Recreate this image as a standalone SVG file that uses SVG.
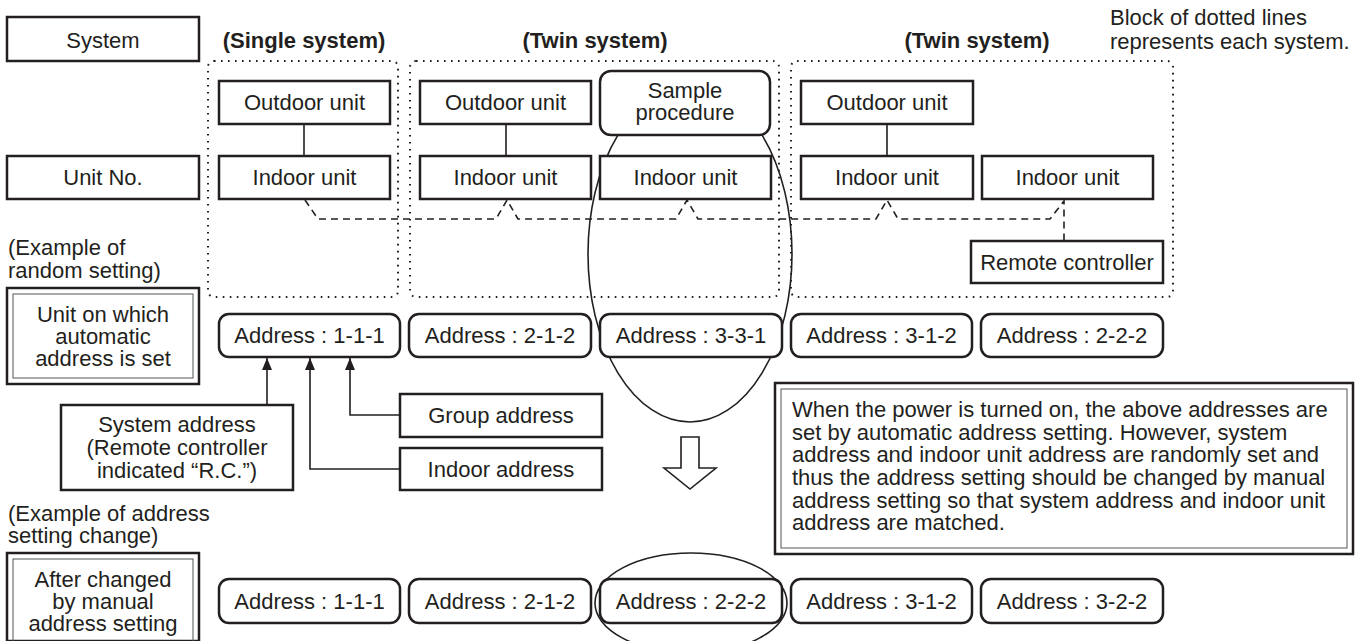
<svg xmlns="http://www.w3.org/2000/svg" width="1367" height="641" viewBox="0 0 1367 641">
<defs>
<style>
text{font-family:"Liberation Sans",Arial,sans-serif;font-size:22px;fill:#231f20}
.c{text-anchor:middle}
.b{font-weight:bold}
.box{fill:#fff;stroke:#231f20;stroke-width:2.5}
.dot{fill:none;stroke:#231f20;stroke-width:2;stroke-dasharray:1.6 5.4}
.dash{fill:none;stroke:#231f20;stroke-width:1.6;stroke-dasharray:7 5}
.ln{fill:none;stroke:#231f20;stroke-width:1.6}
.inner{fill:none;stroke:#555;stroke-width:1}
</style>
<marker id="ah" markerWidth="12" markerHeight="10" refX="12" refY="5" orient="auto" markerUnits="userSpaceOnUse" viewBox="0 0 12 10">
<path d="M0,0 L12,5 L0,10 Z" fill="#231f20"/>
</marker>
</defs>

<!-- dotted system blocks -->
<g id="blocks">
<rect class="dot" x="208" y="61" width="190" height="236" rx="6"/>
<rect class="dot" x="410" y="61" width="369" height="236" rx="6"/>
<rect class="dot" x="791" y="61" width="382" height="236" rx="6"/>
</g>

<!-- highlight ellipses -->
<g id="ellipses">
<ellipse class="ln" cx="690" cy="254" rx="102" ry="168"/>
<ellipse class="ln" cx="691" cy="603" rx="96" ry="50"/>
</g>

<!-- connectors -->
<g id="connectors">
<line class="ln" x1="304" y1="124" x2="304" y2="156"/>
<line class="ln" x1="506" y1="124" x2="506" y2="156"/>
<line class="ln" x1="887" y1="124" x2="887" y2="156"/>
<path class="dash" d="M305,200 L318,219 L496,219 L507,200 L518,219 L676,219 L687,200 L698,219 L876,219 L887,200 L898,219 L1050,219 L1064,201 L1064,241"/>
<path class="ln" d="M267,405 L267,358" marker-end="url(#ah)"/>
<path class="ln" d="M400,469 L310,469 L310,358" marker-end="url(#ah)"/>
<path class="ln" d="M400,415 L350,415 L350,358" marker-end="url(#ah)"/>
</g>

<!-- row labels -->
<g id="system-label"><rect class="box" x="7" y="17" width="192" height="44"/><text class="c" x="103" y="48">System</text></g>
<g id="unitno-label"><rect class="box" x="7" y="156" width="192" height="43"/><text class="c" x="103" y="185">Unit No.</text></g>

<g id="headers">
<text class="c b" x="304" y="48">(Single system)</text>
<text class="c b" x="595" y="48">(Twin system)</text>
<text class="c b" x="977" y="48">(Twin system)</text>
<text x="1110" y="25">Block of dotted lines</text>
<text x="1110" y="49">represents each system.</text>
</g>

<!-- single system -->
<g id="outdoor-1"><rect class="box" x="219" y="81" width="171" height="43"/><text class="c" x="304.5" y="110">Outdoor unit</text></g>
<g id="indoor-1"><rect class="box" x="219" y="156" width="171" height="43"/><text class="c" x="304.5" y="185">Indoor unit</text></g>

<!-- twin system 1 -->
<g id="outdoor-2"><rect class="box" x="420" y="81" width="171" height="43"/><text class="c" x="505.5" y="110">Outdoor unit</text></g>
<g id="sample-procedure"><rect class="box" x="600" y="71" width="170" height="64" rx="11"/><text class="c" x="685" y="98">Sample</text><text class="c" x="685" y="120">procedure</text></g>
<g id="indoor-2a"><rect class="box" x="420" y="156" width="171" height="43"/><text class="c" x="505.5" y="185">Indoor unit</text></g>
<g id="indoor-2b"><rect class="box" x="600" y="156" width="171" height="43"/><text class="c" x="685.5" y="185">Indoor unit</text></g>

<!-- twin system 2 -->
<g id="outdoor-3"><rect class="box" x="801" y="81" width="172" height="43"/><text class="c" x="887" y="110">Outdoor unit</text></g>
<g id="indoor-3a"><rect class="box" x="801" y="156" width="172" height="43"/><text class="c" x="887" y="185">Indoor unit</text></g>
<g id="indoor-3b"><rect class="box" x="982" y="156" width="171" height="43"/><text class="c" x="1067.5" y="185">Indoor unit</text></g>
<g id="remote-controller"><rect class="box" x="971" y="241" width="192" height="42"/><text class="c" x="1067" y="270">Remote controller</text></g>

<!-- random setting example -->
<g id="example-random"><text x="8" y="255">(Example of</text><text x="8" y="278">random setting)</text></g>
<g id="unit-auto-label">
<rect class="box" x="7" y="288" width="192" height="96"/>
<rect class="inner" x="13" y="294" width="180" height="84"/>
<text class="c" x="103" y="322">Unit on which</text>
<text class="c" x="103" y="344">automatic</text>
<text class="c" x="103" y="366">address is set</text>
</g>

<g id="addr-r1"><rect class="box" x="219" y="314" width="181" height="43" rx="10"/><text class="c" x="309.5" y="343">Address : 1-1-1</text></g>
<g id="addr-r2"><rect class="box" x="409" y="314" width="182" height="43" rx="10"/><text class="c" x="500" y="343">Address : 2-1-2</text></g>
<g id="addr-r3"><rect class="box" x="600" y="314" width="182" height="43" rx="10"/><text class="c" x="691" y="343">Address : 3-3-1</text></g>
<g id="addr-r4"><rect class="box" x="791" y="314" width="181" height="43" rx="10"/><text class="c" x="881.5" y="343">Address : 3-1-2</text></g>
<g id="addr-r5"><rect class="box" x="981" y="314" width="182" height="43" rx="10"/><text class="c" x="1072" y="343">Address : 2-2-2</text></g>

<g id="system-address"><rect class="box" x="61" y="405" width="232" height="85"/>
<text class="c" x="177" y="432">System address</text>
<text class="c" x="177" y="455">(Remote controller</text>
<text class="c" x="177" y="478">indicated “R.C.”)</text></g>
<g id="group-address"><rect class="box" x="400" y="394" width="202" height="43"/><text class="c" x="501" y="423">Group address</text></g>
<g id="indoor-address"><rect class="box" x="400" y="448" width="202" height="42"/><text class="c" x="501" y="477">Indoor address</text></g>

<g id="down-arrow"><polygon points="681,437 699,437 699,468 716,468 690,489 664,468 681,468" fill="#fff" stroke="#231f20" stroke-width="1.6"/></g>

<g id="note">
<rect class="box" x="775" y="383" width="578" height="171"/>
<rect class="inner" x="781" y="389" width="566" height="159"/>
<text x="792" y="417">When the power is turned on, the above addresses are</text>
<text x="792" y="440">set by automatic address setting. However, system</text>
<text x="792" y="462">address and indoor unit address are randomly set and</text>
<text x="792" y="485">thus the address setting should be changed by manual</text>
<text x="792" y="508">address setting so that system address and indoor unit</text>
<text x="792" y="530">address are matched.</text>
</g>

<!-- change example -->
<g id="example-change"><text x="8" y="521">(Example of address</text><text x="8" y="543">setting change)</text></g>
<g id="after-change-label">
<rect class="box" x="7" y="553" width="192" height="88"/>
<rect class="inner" x="13" y="559" width="180" height="84"/>
<text class="c" x="103" y="587">After changed</text>
<text class="c" x="103" y="609">by manual</text>
<text class="c" x="103" y="631">address setting</text>
</g>

<g id="addr-c1"><rect class="box" x="219" y="579" width="181" height="44" rx="10"/><text class="c" x="309.5" y="609">Address : 1-1-1</text></g>
<g id="addr-c2"><rect class="box" x="409" y="579" width="182" height="44" rx="10"/><text class="c" x="500" y="609">Address : 2-1-2</text></g>
<g id="addr-c3"><rect class="box" x="600" y="579" width="182" height="44" rx="10"/><text class="c" x="691" y="609">Address : 2-2-2</text></g>
<g id="addr-c4"><rect class="box" x="791" y="579" width="181" height="44" rx="10"/><text class="c" x="881.5" y="609">Address : 3-1-2</text></g>
<g id="addr-c5"><rect class="box" x="981" y="579" width="182" height="44" rx="10"/><text class="c" x="1072" y="609">Address : 3-2-2</text></g>
</svg>
